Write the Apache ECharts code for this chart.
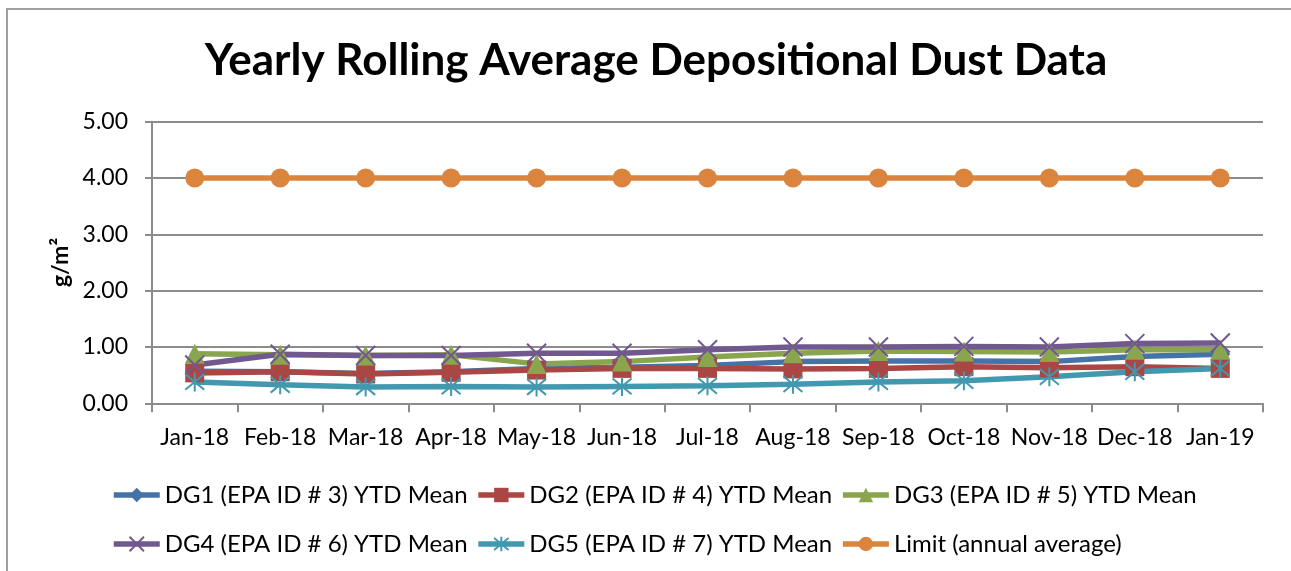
<!DOCTYPE html>
<html>
<head>
<meta charset="utf-8">
<script src="https://cdn.jsdelivr.net/npm/echarts@6/dist/echarts.min.js"></script>
<style>
html,body{margin:0;padding:0;background:#fff;}
#chart{width:1291px;height:571px;}
</style>
</head>
<body>
<div id="chart"></div>
<script>
const categories = ['Jan-18','Feb-18','Mar-18','Apr-18','May-18','Jun-18','Jul-18','Aug-18','Sep-18','Oct-18','Nov-18','Dec-18','Jan-19'];
const yTicks = [0, 1, 2, 3, 4, 5];
const dg1 = [0.57, 0.56, 0.53, 0.56, 0.62, 0.64, 0.67, 0.74, 0.75, 0.75, 0.74, 0.83, 0.87];
const dg2 = [0.54, 0.56, 0.52, 0.55, 0.59, 0.62, 0.62, 0.61, 0.62, 0.65, 0.63, 0.65, 0.62];
const dg3 = [0.88, 0.86, 0.85, 0.86, 0.70, 0.74, 0.82, 0.89, 0.93, 0.92, 0.91, 0.95, 0.95];
const dg4 = [0.68, 0.87, 0.85, 0.85, 0.89, 0.89, 0.95, 1.00, 1.00, 1.01, 1.00, 1.06, 1.07];
const dg5 = [0.38, 0.33, 0.29, 0.30, 0.29, 0.30, 0.31, 0.34, 0.38, 0.40, 0.47, 0.56, 0.62];
const limit = [4, 4, 4, 4, 4, 4, 4, 4, 4, 4, 4, 4, 4];
const names = ['DG1 (EPA ID # 3) YTD Mean','DG2 (EPA ID # 4) YTD Mean','DG3 (EPA ID # 5) YTD Mean','DG4 (EPA ID # 6) YTD Mean','DG5 (EPA ID # 7) YTD Mean','Limit (annual average)'];

const FONT = 'Lato';
const colors = ['#4572A7','#AA4643','#89A54E','#71588F','#4198AF','#DB843D'];
const xPath = 'path://M0,0L10,10M10,0L0,10';
const starPath = 'path://M0,1L10,11M10,1L0,11M5,0L5,12';

function mk(i, data, symbol, size, stroke) {
  return {
    name: names[i], type: 'line', data: data,
    symbol: symbol, symbolSize: size,
    lineStyle: { color: colors[i], width: 5.5 },
    itemStyle: stroke ? { color: colors[i], borderColor: colors[i], borderWidth: 2 } : { color: colors[i] },
    emphasis: { disabled: true },
    animation: false
  };
}

const legendCommon = {
  left: 111, padding: 0, itemWidth: 46, itemHeight: 18, itemGap: 8,
  textStyle: { fontFamily: FONT, fontSize: 24, color: '#000' },
  lineStyle: { width: 5.5 }
};

const chart = echarts.init(document.getElementById('chart'), null, { renderer: 'canvas' });
chart.setOption({
  backgroundColor: '#fff',
  title: {
    text: 'Yearly Rolling Average Depositional Dust Data',
    left: 651, top: 34, textAlign: 'center',
    textStyle: { fontFamily: FONT, fontWeight: 'bold', fontSize: 44, color: '#000' }
  },
  graphic: [{
    type: 'polyline', shape: { points: [[7, 571], [7, 9], [1291, 9]] },
    style: { stroke: '#a0a0a0', lineWidth: 2, fill: null }, silent: true
  }],
  grid: { left: 152, right: 28, top: 121.7, bottom: 167.7 },
  legend: [
    Object.assign({ data: names.slice(0, 3), top: 483 }, legendCommon),
    Object.assign({ data: names.slice(3), top: 532 }, legendCommon)
  ],
  xAxis: {
    type: 'category', data: categories, boundaryGap: true,
    axisLine: { lineStyle: { color: '#8c8c8c', width: 2 } },
    axisTick: { show: true, length: 9, lineStyle: { color: '#8c8c8c', width: 2 } },
    axisLabel: { fontFamily: FONT, fontSize: 23, color: '#000', margin: 23, interval: 0 }
  },
  yAxis: {
    type: 'value', min: yTicks[0], max: yTicks[yTicks.length - 1], interval: 1,
    name: 'g/m²', nameLocation: 'middle', nameGap: 80,
    nameTextStyle: { fontFamily: FONT, fontWeight: 'bold', fontSize: 23, color: '#000' },
    axisLine: { show: true, lineStyle: { color: '#8c8c8c', width: 2 } },
    axisTick: { show: true, length: 7, lineStyle: { color: '#8c8c8c', width: 2 } },
    splitLine: { lineStyle: { color: '#8c8c8c', width: 2 } },
    axisLabel: { fontFamily: FONT, fontSize: 23, color: '#000', margin: 24, formatter: v => v.toFixed(2) }
  },
  series: [
    mk(0, dg1, 'diamond', 20, false),
    mk(1, dg2, 'rect', 19, false),
    mk(2, dg3, 'triangle', 20, false),
    mk(3, dg4, xPath, 19, true),
    mk(4, dg5, starPath, 19, true),
    mk(5, limit, 'circle', 19, false)
  ]
});
</script>
</body>
</html>
